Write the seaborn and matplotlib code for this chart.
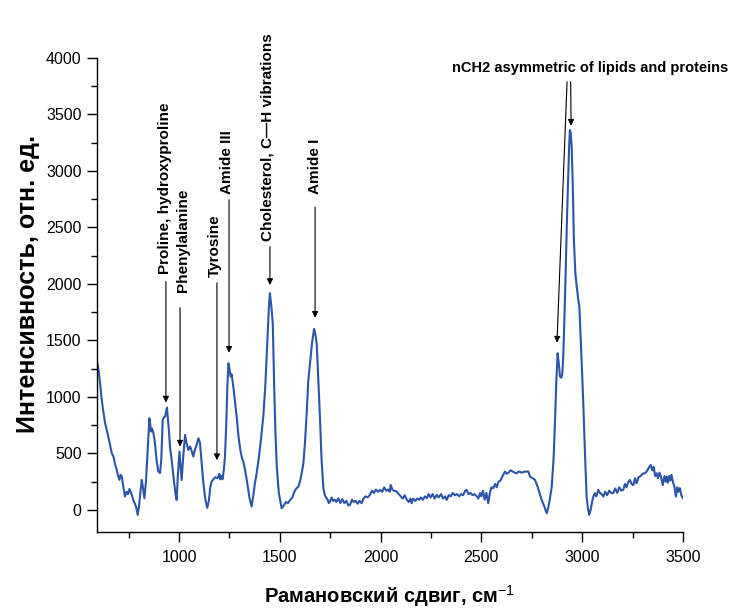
import matplotlib
matplotlib.use('Agg')
import pandas as pd
import seaborn as sns
import matplotlib.pyplot as plt
from matplotlib.ticker import MultipleLocator, AutoMinorLocator

# Спектр КР
wavenumber = [595, 602, 608, 615, 622, 633, 645, 655, 666, 675, 683, 691, 698, 704, 710, 716, 724, 732, 740, 747,
              754, 762, 768, 773, 780, 788, 795, 802, 808, 815, 821, 828, 836, 845, 853, 857, 861, 866, 873, 880,
              888, 897, 906, 912, 919, 925, 931, 936, 940, 945, 950, 955, 965, 975, 982, 988, 994, 1002, 1007, 1013,
              1020, 1030, 1036, 1046, 1055, 1063, 1071, 1080, 1088, 1096, 1104, 1112, 1120, 1130, 1140, 1148, 1155,
              1162, 1170, 1180, 1190, 1195, 1200, 1205, 1210, 1216, 1222, 1228, 1235, 1240, 1245, 1250, 1256, 1261,
              1266, 1272, 1280, 1286, 1295, 1305, 1312, 1319, 1328, 1340, 1350, 1360, 1368, 1376, 1385, 1395, 1405,
              1418, 1428, 1438, 1446, 1451, 1458, 1465, 1472, 1478, 1485, 1495, 1509, 1520, 1530, 1541, 1551, 1562,
              1572, 1582, 1592, 1600, 1608, 1617, 1625, 1633, 1641, 1650, 1660, 1670, 1676, 1683, 1690, 1699, 1707,
              1716, 1723, 1730, 1737, 1743, 1749, 1757, 1764, 1772, 1780, 1790, 1800, 1810, 1820, 1830, 1840, 1848,
              1858, 1866, 1876, 1886, 1896, 1906, 1915, 1925, 1936, 1947, 1957, 1967, 1977, 1987, 1997, 2008, 2018,
              2028, 2038, 2045, 2050, 2058, 2066, 2080, 2090, 2100, 2110, 2120, 2130, 2140, 2148, 2154, 2162, 2172,
              2182, 2192, 2200, 2210, 2220, 2229, 2238, 2248, 2258, 2268, 2278, 2288, 2300, 2310, 2320, 2328, 2338,
              2348, 2358, 2368, 2378, 2390, 2400, 2410, 2420, 2427, 2436, 2446, 2456, 2466, 2478, 2485, 2493, 2500,
              2508, 2516, 2525, 2534, 2542, 2550, 2559, 2568, 2576, 2585, 2595, 2605, 2617, 2625, 2635, 2645, 2655,
              2665, 2675, 2685, 2700, 2716, 2733, 2741, 2755, 2766, 2780, 2790, 2799, 2810, 2818, 2824, 2832, 2840,
              2849, 2858, 2865, 2871, 2878, 2884, 2890, 2896, 2901, 2906, 2912, 2918, 2925, 2931, 2935, 2939, 2943,
              2948, 2953, 2959, 2966, 2973, 2980, 2986, 2993, 3000, 3006, 3012, 3017, 3022, 3028, 3035, 3042, 3050,
              3056, 3063, 3070, 3080, 3088, 3096, 3105, 3114, 3124, 3134, 3144, 3154, 3164, 3174, 3184, 3194, 3204,
              3212, 3220, 3229, 3237, 3245, 3254, 3262, 3270, 3280, 3290, 3300, 3311, 3320, 3330, 3340, 3348, 3355,
              3362, 3369, 3376, 3383, 3390, 3394, 3400, 3408, 3414, 3419, 3425, 3432, 3437, 3443, 3450, 3458, 3465,
              3472, 3478, 3485, 3492, 3500]
intensity = [1298, 1220, 1124, 1000, 900, 770, 680, 600, 504, 470, 400, 354, 300, 265, 310, 295, 200, 118, 160, 140,
             185, 150, 120, 88, 60, 20, -44, 40, 150, 265, 200, 103, 250, 550, 811, 760, 693, 720, 680, 600,
             450, 339, 327, 450, 796, 820, 826, 870, 906, 800, 700, 560, 420, 250, 150, 88, 300, 516, 400, 265,
             450, 664, 600, 531, 560, 520, 472, 540, 580, 634, 593, 420, 250, 100, 18, 80, 200,
             251, 270, 290, 280, 295, 320, 270, 300, 271, 350, 472, 800, 1100, 1298, 1250, 1180, 1200,
             1136, 1050, 920, 826, 650, 520, 460, 428, 350, 220, 100, 30, 120, 230, 324, 450, 600,
             826, 1100, 1500, 1800, 1918, 1800, 1655, 1100, 700, 384, 150, 15, 40, 70, 60, 88, 110,
             160, 190, 206, 250, 320, 413, 600, 850, 1136, 1300, 1480, 1602, 1560, 1475, 1200, 826, 450,
             192, 130, 110, 90, 60, 74, 110, 80, 90, 70, 103, 60, 95, 60, 80, 40, 44,
             90, 70, 80, 55, 80, 59, 100, 120, 110, 133, 170, 150, 180, 160, 177, 160, 200,
             170, 180, 160, 221, 180, 170, 162, 140, 120, 100, 130, 90, 70, 100, 59, 100, 80,
             100, 90, 110, 90, 120, 103, 140, 110, 140, 100, 133, 110, 140, 100, 120, 88, 130,
             120, 150, 130, 140, 120, 140, 130, 170, 177, 140, 150, 130, 140, 118, 100, 150, 120,
             170, 90, 150, 59, 150, 200, 192, 230, 200, 250, 260, 300, 339, 320, 330, 350, 340,
             330, 324, 340, 330, 339, 339, 295, 280, 265, 200, 140, 88, 40, 0, -29, 20, 100,
             206, 450, 767, 1100, 1387, 1300, 1180, 1170, 1195, 1350, 1700, 2095, 2600, 2980, 3200, 3363, 3340,
             3215, 2900, 2390, 2100, 1976, 1870, 1799, 1500, 1200, 914, 600, 350, 118, 20, -44, 0, 80,
             120, 148, 120, 177, 150, 140, 118, 160, 130, 170, 150, 148, 190, 150, 200, 170, 177,
             230, 200, 250, 265, 230, 220, 280, 236, 290, 300, 320, 324, 340, 370, 398, 350, 380,
             300, 324, 280, 330, 300, 265, 220, 300, 250, 295, 240, 300, 260, 310, 250, 200, 118,
             200, 160, 192, 130, 103]

# Подписи пиков: текст, позиция текста (x, низ), начало стрелки, конец стрелки
peak_labels = ['Proline, hydroxyproline', 'Phenylalanine', 'Tyrosine', 'Amide III',
               'Cholesterol, C\u2014H vibrations', 'Amide I']
label_x = [928, 1022, 1176, 1240, 1440, 1673]
label_y = [2090, 1930, 2060, 2800, 2380, 2800]
arrow_x = [935, 1005, 1188, 1248, 1451, 1675]
arrow_y0 = [2020, 1790, 2010, 2745, 2330, 2680]
arrow_y1 = [950, 560, 440, 1390, 1990, 1700]

ch2_label = 'nCH2 asymmetric of lipids and proteins'
ch2_arrow_x0 = [2925, 2943]
ch2_arrow_x1 = [2875, 2945]
ch2_arrow_y1 = [1480, 3400]

df = pd.DataFrame({'x': wavenumber, 'y': intensity})

sns.set_style('ticks')
plt.rcParams['font.family'] = ['Liberation Sans', 'DejaVu Sans']
plt.rcParams['mathtext.fontset'] = 'custom'
plt.rcParams['mathtext.rm'] = 'Liberation Sans'
plt.rcParams['mathtext.bf'] = 'Liberation Sans:bold'
plt.rcParams.update({'text.color': 'black', 'axes.labelcolor': 'black',
                     'xtick.color': 'black', 'ytick.color': 'black', 'axes.edgecolor': 'black'})

fig = plt.figure(figsize=(7.32, 6.10), dpi=100)
ax = fig.add_axes([0.1325, 0.128, 0.8005, 0.777])
sns.lineplot(data=df, x='x', y='y', estimator=None, sort=False, color='#2b55a9', linewidth=1.5, ax=ax)

ax.set_xlim(593, 3500)
ax.set_ylim(-195, 4000)
ax.xaxis.set_major_locator(MultipleLocator(500))
ax.xaxis.set_minor_locator(AutoMinorLocator(2))
ax.yaxis.set_major_locator(MultipleLocator(500))
ax.yaxis.set_minor_locator(AutoMinorLocator(2))
ax.tick_params(which='major', length=7, width=1, labelsize=11.5, pad=4)
ax.tick_params(axis='x', which='major', pad=6)
ax.tick_params(which='minor', length=4.5, width=1)
for s in ['left', 'bottom']:
    ax.spines[s].set_linewidth(1)
sns.despine(ax=ax)

ax.set_xlabel('Рамановский сдвиг, см$^{-1}$', fontsize=14.5, fontweight='bold', labelpad=13)
ax.set_ylabel('Интенсивность, отн. ед.', fontsize=18, fontweight='bold')
ax.yaxis.set_label_coords(-0.097, 0.523)

arrow_props = dict(arrowstyle='-|>', color='black', lw=0.8, mutation_scale=9, shrinkA=0, shrinkB=0)
for lab, tx, ty, ax0, ay0, ay1 in zip(peak_labels, label_x, label_y, arrow_x, arrow_y0, arrow_y1):
    ax.text(tx, ty, lab, rotation=90, ha='center', va='bottom', fontsize=11, fontweight='bold', clip_on=False)
    ax.annotate('', xy=(ax0, ay1), xytext=(ax0, ay0), arrowprops=arrow_props)

ax.text(3040, 3915, ch2_label, ha='center', va='center', fontsize=10.5, fontweight='bold')
for x0, x1, y1 in zip(ch2_arrow_x0, ch2_arrow_x1, ch2_arrow_y1):
    ax.annotate('', xy=(x1, y1), xytext=(x0, 3790), arrowprops=arrow_props)

fig.savefig('out.png', dpi=100)
